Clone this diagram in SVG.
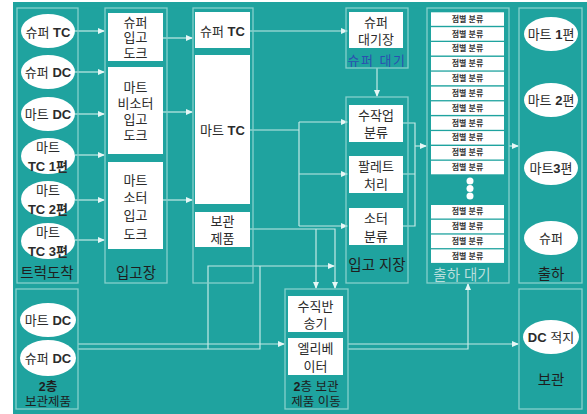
<svg xmlns="http://www.w3.org/2000/svg" width="587" height="414" viewBox="0 0 587 414">
<defs>
<marker id="ah" markerWidth="7" markerHeight="6" refX="6" refY="3" orient="auto" markerUnits="userSpaceOnUse">
<path d="M0,0 L7,3 L0,6 Z" fill="#e8f7f6"/>
</marker>
<style>
.panel{fill:none;stroke:#86d0cc;stroke-width:1.3}
.box{fill:#ffffff}
.ell{fill:#ffffff}
.t{font-family:"Liberation Sans","Noto Sans CJK KR",sans-serif;font-size:13px;fill:#2b2b2b;text-anchor:middle;dominant-baseline:central}
.b{font-weight:bold}
.sm{font-family:"Liberation Sans","Noto Sans CJK KR",sans-serif;font-size:8px;fill:#333;text-anchor:middle;dominant-baseline:central;font-weight:bold}
.lab{font-family:"Liberation Sans","Noto Sans CJK KR",sans-serif;font-size:14.5px;fill:#1e1e1e;text-anchor:middle;dominant-baseline:central}
.lab2{font-family:"Liberation Sans","Noto Sans CJK KR",sans-serif;font-size:12.5px;fill:#1e1e1e;text-anchor:middle;dominant-baseline:central}
.con{fill:none;stroke:#c4e9e6;stroke-width:1.2}
.arr{marker-end:url(#ah)}
</style>
</defs>
<rect x="13" y="2" width="574" height="412" fill="#1fa39f"/>

<g id="connectors">
<path class="con arr" d="M75,31 H104"/>
<path class="con arr" d="M75,72 H104"/>
<path class="con arr" d="M75,114 H104"/>
<path class="con arr" d="M75,155 H104"/>
<path class="con arr" d="M75,200 H104"/>
<path class="con arr" d="M75,240 H104"/>
<path class="con arr" d="M163,38 H192"/>
<path class="con arr" d="M163,112 H192"/>
<path class="con arr" d="M163,200 H192"/>
<path class="con arr" d="M250,31 H347"/>
<path class="con arr" d="M377,68 V96"/>
<path class="con" d="M250,130 H299 M299,122 V226"/>
<path class="con arr" d="M299,122 H347"/>
<path class="con arr" d="M299,174 H347"/>
<path class="con arr" d="M299,226 H347"/>
<path class="con" d="M403,123 H415 V226 H403 M403,174 H415"/>
<path class="con arr" d="M415,146 H426"/>
<path class="con arr" d="M509,146 H518"/>
<path class="con arr" d="M250,229 H335 V288"/>
<path class="con arr" d="M316,229 V288"/>
<path class="con" d="M78,349 H260 V266"/>
<path class="con arr" d="M208,349 V266 H334"/>
<path class="con arr" d="M78,344 H284"/>
<path class="con arr" d="M348,344 H518"/>
<path class="con arr" d="M348,349 H468 V284"/>
</g>

<g id="panel-truck">
<rect class="panel" x="17" y="8" width="61" height="275"/>
<text class="lab" x="47" y="273">트럭도착</text>
</g>
<g id="panel-inbound">
<rect class="panel" x="105" y="8" width="62" height="275"/>
<text class="lab" x="136" y="273">입고장</text>
</g>
<g id="panel-tc">
<rect class="panel" x="193" y="8" width="60" height="275"/>
</g>
<g id="panel-superwait">
<rect class="panel" x="346" y="8" width="62" height="60"/>
<text class="t" x="377" y="60" style="fill:#2c4fb0;letter-spacing:1.5px">슈퍼 대기</text>
</g>
<g id="panel-sort">
<rect class="panel" x="346" y="97" width="62" height="186"/>
<text class="lab" x="377" y="265">입고 지장</text>
</g>
<g id="panel-shipwait">
<rect class="panel" x="427" y="8" width="82" height="275"/>
<text class="lab" x="462" y="275" style="fill:#b8dedc">출하 대기</text>
</g>
<g id="panel-ship">
<rect class="panel" x="519" y="8" width="63" height="275"/>
<text class="lab" x="551" y="274">출하</text>
</g>
<g id="panel-2f">
<rect class="panel" x="16" y="289" width="62" height="120"/>
<text class="lab2 b" x="48" y="387">2층</text>
<text class="lab2" x="48" y="402">보관제품</text>
</g>
<g id="panel-move">
<rect class="panel" x="285" y="289" width="63" height="120"/>
<text class="lab2" x="316" y="387"><tspan class="b">2</tspan>층 보관</text>
<text class="lab2" x="316" y="402">제품 이동</text>
</g>
<g id="panel-storage">
<rect class="panel" x="519" y="289" width="63" height="120"/>
<text class="lab" x="551" y="380">보관</text>
</g>

<g id="n-super-tc-truck"><ellipse class="ell" cx="48" cy="31" rx="27" ry="17"/><text class="t" x="48" y="32">슈퍼 <tspan class="b">TC</tspan></text></g>
<g id="n-super-dc-truck"><ellipse class="ell" cx="48" cy="72" rx="27" ry="17"/><text class="t" x="48" y="72">슈퍼 <tspan class="b">DC</tspan></text></g>
<g id="n-mart-dc-truck"><ellipse class="ell" cx="48" cy="114" rx="27" ry="17"/><text class="t" x="48" y="114">마트 <tspan class="b">DC</tspan></text></g>
<g id="n-mart-tc1"><ellipse class="ell" cx="48" cy="156" rx="27" ry="18"/><text class="t" x="48" y="147">마트</text><text class="t b" x="48" y="166">TC 1편</text></g>
<g id="n-mart-tc2"><ellipse class="ell" cx="48" cy="199" rx="27" ry="18"/><text class="t" x="48" y="190">마트</text><text class="t b" x="48" y="209">TC 2편</text></g>
<g id="n-mart-tc3"><ellipse class="ell" cx="48" cy="241" rx="27" ry="18"/><text class="t" x="48" y="232">마트</text><text class="t b" x="48" y="251">TC 3편</text></g>

<g id="n-super-dock"><rect class="box" x="108" y="13" width="55" height="48"/><text class="t" x="135.5" y="22">슈퍼</text><text class="t" x="135.5" y="37.5">입고</text><text class="t" x="135.5" y="53">도크</text></g>
<g id="n-mart-nonsorter-dock"><rect class="box" x="108" y="67" width="55" height="87"/><text class="t" x="135.5" y="87">마트</text><text class="t" x="135.5" y="103">비소터</text><text class="t" x="135.5" y="119">입고</text><text class="t" x="135.5" y="135">도크</text></g>
<g id="n-mart-sorter-dock"><rect class="box" x="108" y="162" width="55" height="87"/><text class="t" x="135.5" y="180">마트</text><text class="t" x="135.5" y="197">소터</text><text class="t" x="135.5" y="215">입고</text><text class="t" x="135.5" y="234">도크</text></g>

<g id="n-super-tc"><rect class="box" x="195" y="12" width="55" height="36"/><text class="t" x="222.5" y="31">슈퍼 <tspan class="b">TC</tspan></text></g>
<g id="n-mart-tc"><rect class="box" x="195" y="55" width="55" height="149"/><text class="t" x="222.5" y="130">마트 <tspan class="b">TC</tspan></text></g>
<g id="n-stored"><rect class="box" x="195" y="212" width="55" height="35"/><text class="t" x="222.5" y="221">보관</text><text class="t" x="222.5" y="238">제품</text></g>

<g id="n-super-wait"><rect class="box" x="349" y="12" width="54" height="36"/><text class="t" x="376" y="22">슈퍼</text><text class="t" x="376" y="39">대기장</text></g>
<g id="n-manual"><rect class="box" x="349" y="105" width="54" height="37"/><text class="t" x="376" y="115">수작업</text><text class="t" x="376" y="132">분류</text></g>
<g id="n-pallet"><rect class="box" x="349" y="156" width="54" height="37"/><text class="t" x="376" y="166">팔레트</text><text class="t" x="376" y="184">처리</text></g>
<g id="n-sorter"><rect class="box" x="349" y="208" width="54" height="37"/><text class="t" x="376" y="218">소터</text><text class="t" x="376" y="236">분류</text></g>

<g id="n-store-sort">
<rect class="box" x="431" y="12.3" width="73" height="13.5"/><text class="sm" x="467.5" y="19">점별 분류</text>
<rect class="box" x="431" y="27.2" width="73" height="13.5"/><text class="sm" x="467.5" y="34">점별 분류</text>
<rect class="box" x="431" y="42" width="73" height="13.5"/><text class="sm" x="467.5" y="48.8">점별 분류</text>
<rect class="box" x="431" y="56.9" width="73" height="13.5"/><text class="sm" x="467.5" y="63.6">점별 분류</text>
<rect class="box" x="431" y="71.7" width="73" height="13.5"/><text class="sm" x="467.5" y="78.5">점별 분류</text>
<rect class="box" x="431" y="86.6" width="73" height="13.5"/><text class="sm" x="467.5" y="93.3">점별 분류</text>
<rect class="box" x="431" y="101.4" width="73" height="13.5"/><text class="sm" x="467.5" y="108.2">점별 분류</text>
<rect class="box" x="431" y="116.3" width="73" height="13.5"/><text class="sm" x="467.5" y="123">점별 분류</text>
<rect class="box" x="431" y="131.1" width="73" height="13.5"/><text class="sm" x="467.5" y="137.9">점별 분류</text>
<rect class="box" x="431" y="146" width="73" height="13.5"/><text class="sm" x="467.5" y="152.7">점별 분류</text>
<rect class="box" x="431" y="160.8" width="73" height="13.5"/><text class="sm" x="467.5" y="167.6">점별 분류</text>
<circle cx="470" cy="181" r="3.5" fill="#ffffff"/>
<circle cx="470" cy="188.5" r="3.5" fill="#ffffff"/>
<circle cx="470" cy="196" r="3.5" fill="#ffffff"/>
<rect class="box" x="431" y="205" width="73" height="13.5"/><text class="sm" x="467.5" y="211.8">점별 분류</text>
<rect class="box" x="431" y="219.8" width="73" height="13.5"/><text class="sm" x="467.5" y="226.6">점별 분류</text>
<rect class="box" x="431" y="234.6" width="73" height="13.5"/><text class="sm" x="467.5" y="241.4">점별 분류</text>
<rect class="box" x="431" y="249.4" width="73" height="13.5"/><text class="sm" x="467.5" y="256.2">점별 분류</text>
</g>

<g id="n-mart1"><ellipse class="ell" cx="551" cy="34" rx="27" ry="17"/><text class="t" x="551" y="34">마트 <tspan class="b">1</tspan>편</text></g>
<g id="n-mart2"><ellipse class="ell" cx="551" cy="100" rx="27" ry="17"/><text class="t" x="551" y="100">마트 <tspan class="b">2</tspan>편</text></g>
<g id="n-mart3"><ellipse class="ell" cx="551" cy="168" rx="27" ry="17"/><text class="t" x="551" y="168">마트<tspan class="b">3</tspan>편</text></g>
<g id="n-super-ship"><ellipse class="ell" cx="551" cy="238" rx="27" ry="17"/><text class="t" x="551" y="238">슈퍼</text></g>

<g id="n-mart-dc-2f"><ellipse class="ell" cx="48" cy="320" rx="28" ry="17"/><text class="t" x="48" y="320">마트 <tspan class="b">DC</tspan></text></g>
<g id="n-super-dc-2f"><ellipse class="ell" cx="48" cy="358" rx="28" ry="18"/><text class="t" x="48" y="358">슈퍼 <tspan class="b">DC</tspan></text></g>

<g id="n-conveyor"><rect class="box" x="288" y="296" width="55" height="36"/><text class="t" x="315.5" y="306">수직반</text><text class="t" x="315.5" y="323">송기</text></g>
<g id="n-elevator"><rect class="box" x="288" y="338" width="55" height="37"/><text class="t" x="315.5" y="348">엘리베</text><text class="t" x="315.5" y="366">이터</text></g>

<g id="n-dc-load"><ellipse class="ell" cx="551" cy="337" rx="28" ry="17"/><text class="t" x="551" y="337"><tspan class="b">DC</tspan> 적지</text></g>
</svg>
